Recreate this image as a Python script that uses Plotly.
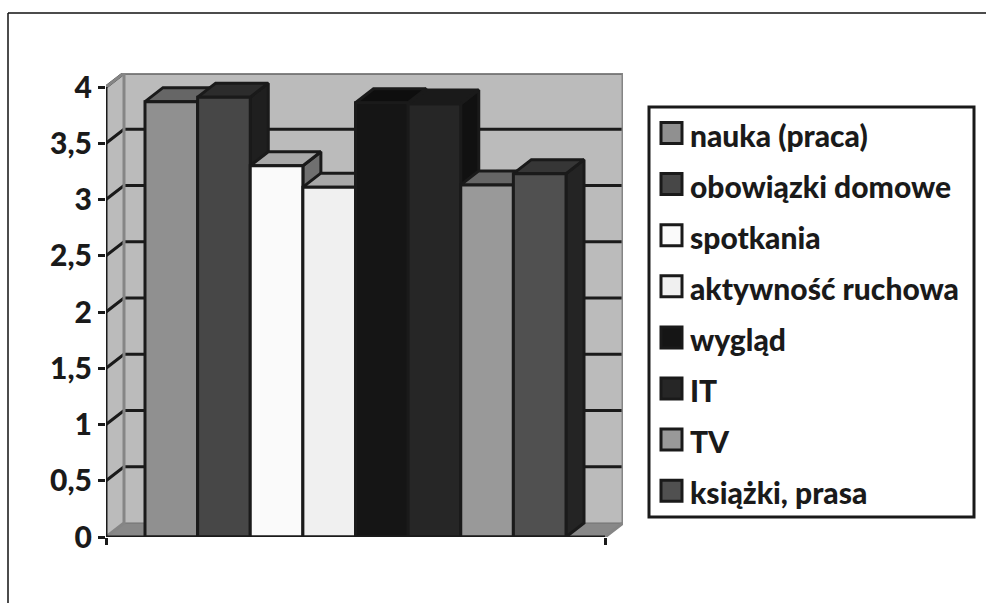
import plotly.graph_objects as go

categories = ["nauka (praca)", "obowiązki domowe", "spotkania", "aktywność ruchowa",
              "wygląd", "IT", "TV", "książki, prasa"]
values = [3.87, 3.91, 3.30, 3.11, 3.86, 3.85, 3.13, 3.23]
front_colors = ["#909090", "#474747", "#fafafa", "#f0f0f0", "#151515", "#262626", "#999999", "#505050"]
top_colors = ["#666666", "#2c2c2c", "#a8a8a8", "#a8a8a8", "#0e0e0e", "#1a1a1a", "#666666", "#363636"]
side_colors = ["#3c3c3c", "#1f1f1f", "#707070", "#6a6a6a", "#0c0c0c", "#111111", "#3c3c3c", "#242424"]
tick_values = [0, 0.5, 1, 1.5, 2, 2.5, 3, 3.5, 4]
tick_labels = ["0", "0,5", "1", "1,5", "2", "2,5", "3", "3,5", "4"]

W, H = 986, 603
L, R, T, B = 106, 623, 73, 537   # plot box in pixels
UX, UY = 499, 112.5              # pixels per data unit
DX, DY = 18 / UX, 14 / UY        # oblique depth in data units
XR = [0, (R - L) / UX]
YR = [0, (B - T) / UY]
GAP = 78 / UX
BW = (1 - GAP) / len(values)
INK = "#1a1a1a"
FONT = "Lato"
OUT = 3


def poly(xs, ys, fill, line=None, lw=0):
    return go.Scatter(x=xs + xs[:1], y=ys + ys[:1], mode="lines", fill="toself", fillcolor=fill,
                      line=dict(color=line or fill, width=lw), hoverinfo="skip", showlegend=False,
                      cliponaxis=False, xaxis="x", yaxis="y")


def seg(xs, ys, color, lw, axis=("x", "y")):
    return go.Scatter(x=xs, y=ys, mode="lines", line=dict(color=color, width=lw), hoverinfo="skip",
                      showlegend=False, cliponaxis=False, xaxis=axis[0], yaxis=axis[1])


fig = go.Figure()
# walls and floor
fig.add_trace(poly([DX, XR[1], XR[1], DX], [DY, DY, YR[1], YR[1]], "#bbbbbb"))
fig.add_trace(poly([0, DX, DX, 0], [0, DY, YR[1], 4], "#bbbbbb"))
fig.add_trace(poly([0, 1, XR[1], DX], [0, 0, DY, DY], "#888888"))
fig.add_trace(seg([DX, XR[1]], [DY, DY], "#707070", 1))
# grid on the walls
for t in tick_values[1:]:
    fig.add_trace(seg([0, DX, XR[1]], [t, t + DY, t + DY], INK, 3))
# wall edges
fig.add_trace(seg([0, DX, XR[1], XR[1], 1], [4, YR[1], YR[1], DY, 0], "#858585", 3))
fig.add_trace(seg([DX, DX, 0], [YR[1], DY, 0], "#858585", 3))
# tops and sides of the bars
for i, v in enumerate(values):
    x0 = (GAP / 2) + i * BW
    x1 = x0 + BW
    fig.add_trace(poly([x1, x1 + DX, x1 + DX, x1], [0, DY, v + DY, v], side_colors[i], INK, OUT))
    fig.add_trace(poly([x0, x1, x1 + DX, x0 + DX], [v, v, v + DY, v + DY], top_colors[i], INK, OUT))
# fronts on an overlaid subplot so they are painted above all the depth faces
for i, v in enumerate(values):
    fig.add_trace(go.Bar(x=[GAP / 2 + (i + 0.5) * BW], y=[v], width=[BW], name=categories[i],
                         marker=dict(color=front_colors[i], line=dict(color=INK, width=OUT)),
                         showlegend=False, xaxis="x2", yaxis="y2"))
# axis lines
fig.add_trace(seg([0, 0], [0, 4], INK, OUT, ("x2", "y2")))
fig.add_trace(seg([0, 1], [0, 0], INK, OUT, ("x2", "y2")))

shapes = [
    dict(type="line", xref="paper", yref="paper", x0=8 / W, x1=1, y0=1 - 13 / H, y1=1 - 13 / H,
         line=dict(color="#111111", width=1.5)),
    dict(type="line", xref="paper", yref="paper", x0=8 / W, x1=8 / W, y0=0, y1=1 - 13 / H,
         line=dict(color="#111111", width=1.5)),
    dict(type="rect", xref="paper", yref="paper", x0=649 / W, x1=974 / W, y0=1 - 517 / H, y1=1 - 107 / H,
         line=dict(color=INK, width=3), fillcolor="white"),
]
annotations = []
for i, name in enumerate(categories):
    cy = 133 + i * 51.1
    shapes.append(dict(type="rect", xref="paper", yref="paper", x0=661 / W, x1=682 / W,
                       y0=1 - (cy + 10.5) / H, y1=1 - (cy - 10.5) / H,
                       line=dict(color=INK, width=3), fillcolor=front_colors[i]))
    annotations.append(dict(xref="paper", yref="paper", x=688 / W, y=1 - (cy + 1.5) / H, xanchor="left",
                            yanchor="middle", text=name, showarrow=False,
                            font=dict(family=FONT, size=30, weight=900, color=INK)))

dom_x = [L / W, R / W]
dom_y = [1 - B / H, 1 - T / H]
fig.update_layout(
    width=W, height=H, margin=dict(l=0, r=0, t=0, b=0, autoexpand=False), paper_bgcolor="white",
    plot_bgcolor="rgba(0,0,0,0)",
    showlegend=False, barmode="overlay", shapes=shapes, annotations=annotations,
    font=dict(family=FONT, color=INK),
    xaxis=dict(domain=dom_x, range=XR, tickmode="array", tickvals=[0, 1], ticktext=["", ""], ticks="outside",
               ticklen=7, tickwidth=OUT, tickcolor=INK, showgrid=False, zeroline=False, showline=False),
    yaxis=dict(domain=dom_y, range=YR, tickmode="array", tickvals=tick_values,
               ticktext=tick_labels, ticks="outside", ticklen=7, tickwidth=OUT,
               tickcolor=INK, tickfont=dict(family=FONT, size=30, weight=900, color=INK), showgrid=False,
               zeroline=False, showline=False),
    xaxis2=dict(domain=dom_x, range=XR, overlaying="x", anchor="y2", visible=False),
    yaxis2=dict(domain=dom_y, range=YR, overlaying="y", anchor="x2", visible=False),
)
fig.write_html("out.html", config={"displayModeBar": False}, post_script="document.body.style.margin='0';")
